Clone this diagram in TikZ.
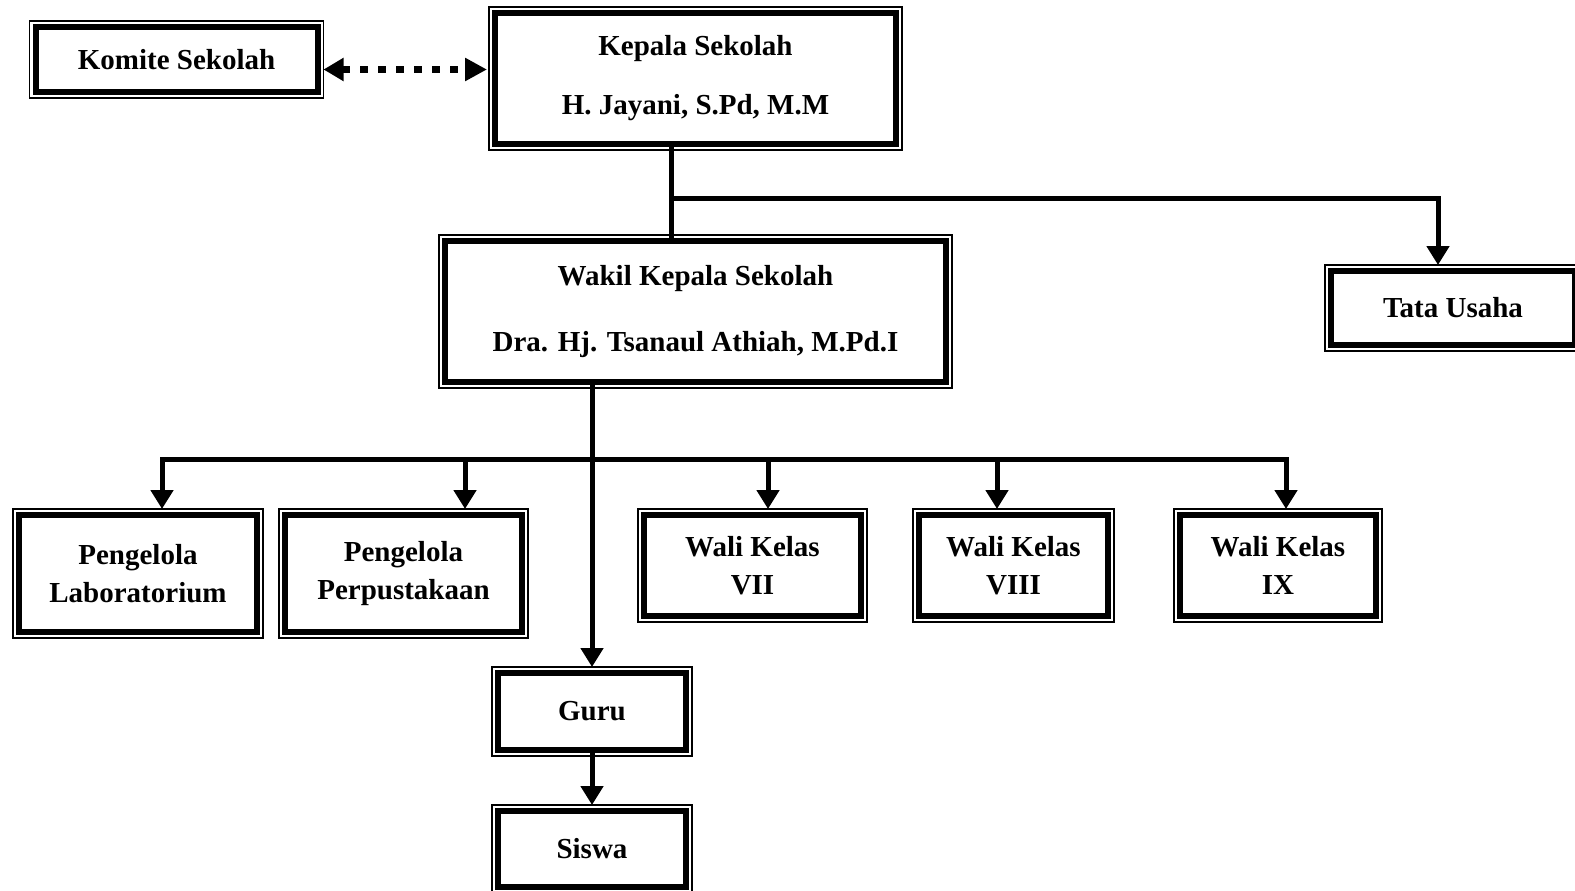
\documentclass[tikz,border=0pt]{standalone}
\usepackage{fontspec}
\setmainfont{Liberation Serif}
\usetikzlibrary{arrows.meta,positioning,calc}
\tikzset{
  orgbox/.style = { draw, line width=6pt, fill=white, inner sep=0pt, align=center,
    font=\bfseries\fontsize{29}{38}\selectfont,
    preaction={draw=black, line width=13.4pt},
    preaction={draw=white, line width=10.8pt} },
  conn/.style = { line width=5pt },
  arr/.style  = { conn, -{Triangle[width=22pt,length=19pt]}, shorten >=3pt }
}
\begin{document}
\begin{tikzpicture}[x=1pt,y=-1pt]
  \useasboundingbox (0,0) rectangle (1575,891);
  % top: komite, kepala, wakil, tata usaha
  \node[orgbox, minimum width=282pt, minimum height=65pt] (komite) at (176.5,59.5) {Komite Sekolah};
  \node[orgbox, minimum width=401pt, minimum height=131pt] (kepala) at (695.5,78.5)
    {Kepala Sekolah\\[21pt]H. Jayani, S.Pd, M.M};
  \node[orgbox, minimum width=501pt, minimum height=141pt] (wakil) at (695.5,311.5)
    {Wakil Kepala Sekolah\\[28pt]Dra. Hj. Tsanaul Athiah, M.Pd.I};
  \node[orgbox, minimum width=244pt, minimum height=74pt] (tata) at (1453,308) {Tata Usaha};
  % middle row
  \node[orgbox, minimum width=238pt, minimum height=117pt] (lab) at (138,573.5) {Pengelola\\Laboratorium};
  \node[orgbox, minimum width=237pt, minimum height=117pt] (perp) at (403.5,573.5) {Pengelola\\Perpustakaan};
  \node[orgbox, minimum width=217pt, minimum height=101pt] (seven) at (752.5,565.5) {Wali Kelas\\VII};
  \node[orgbox, minimum width=189pt, minimum height=101pt] (eight) at (1013.5,565.5) {Wali Kelas\\VIII};
  \node[orgbox, minimum width=196pt, minimum height=101pt] (nine) at (1278,565.5) {Wali Kelas\\IX};
  % bottom
  \node[orgbox, minimum width=188pt, minimum height=77pt] (guru) at (592,711.5) {Guru};
  \node[orgbox, minimum width=188pt, minimum height=76pt, below=55pt of guru] (siswa) {Siswa};
  % connectors
  \coordinate (kbus) at (671,198);
  \coordinate (drop1) at (162,459);
  \coordinate (drop2) at (465,459);
  \coordinate (drop3) at (768,459);
  \coordinate (drop4) at (997,459);
  \coordinate (drop5) at (1286,459);
  \draw[line width=7pt, dash pattern=on 8pt off 10pt, {Triangle[width=22pt,length=20pt]}-{Triangle[width=22pt,length=22pt]},
    shorten <=3pt, shorten >=5pt] ([yshift=-10pt]komite.east) -- ([yshift=-10pt]komite.east -| kepala.west);
  \draw[conn] (kbus |- kepala.south) -- (kbus |- wakil.north);
  \draw[arr] (kbus) -| ([xshift=-15pt]tata.north);
  \draw[arr] (wakil.south -| guru.north) -- (guru.north);
  \draw[conn, {Triangle[width=22pt,length=19pt]}-{Triangle[width=22pt,length=19pt]}, shorten <=3pt, shorten >=3pt]
    (drop1 |- lab.north) -- (drop1) -- (drop5) -- (drop5 |- nine.north);
  \foreach \d/\b in {2/perp,3/seven,4/eight}
    \draw[arr] (drop\d) -- (drop\d |- \b.north);
  \draw[arr] (guru) -- (siswa);
\end{tikzpicture}
\end{document}
